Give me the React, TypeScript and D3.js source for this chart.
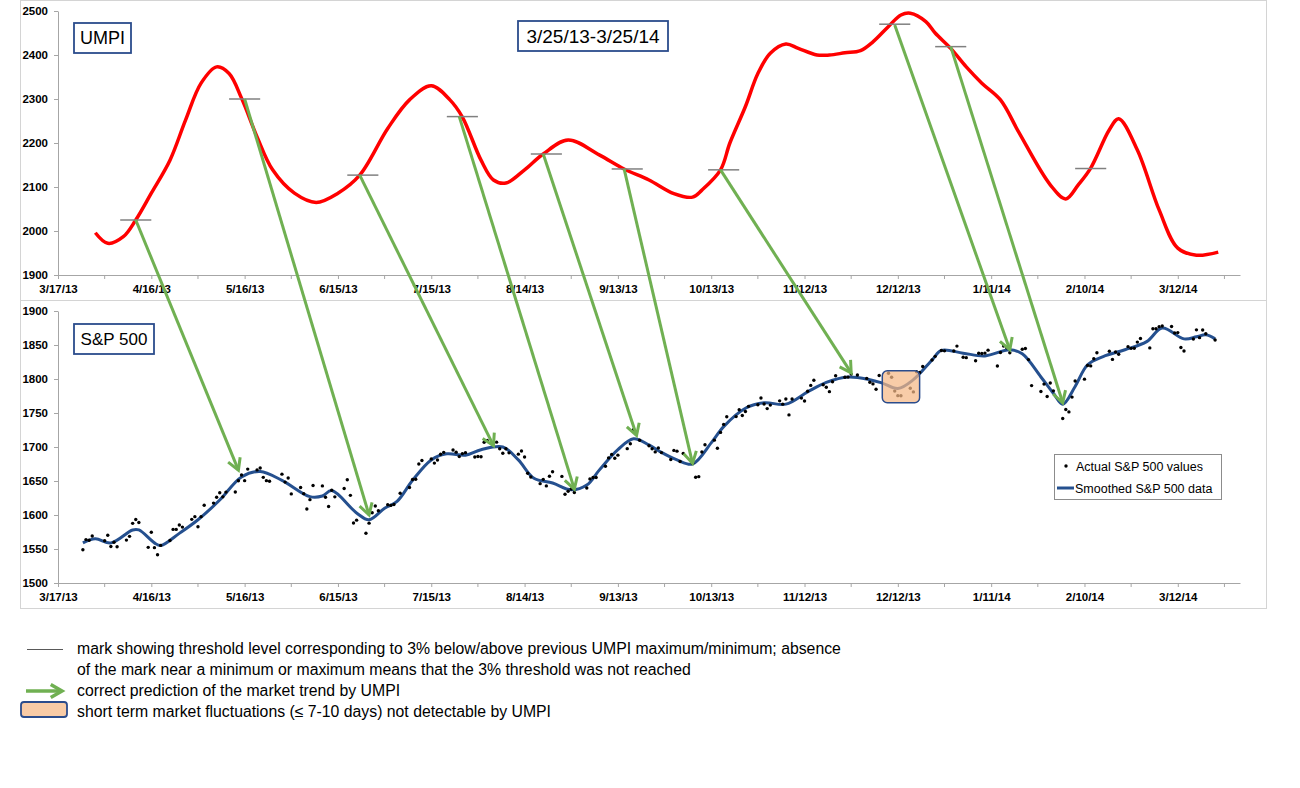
import { useEffect, useRef } from "react"
import * as d3 from "d3"

const WIDTH = 1300
const HEIGHT = 788

// x axis (shared by both panels)
const xDomain = ["2013-03-17", "2014-04-01"]
const xTickDates = [
  "2013-03-17", "2013-04-16", "2013-05-16", "2013-06-15", "2013-07-15", "2013-08-14", "2013-09-13",
  "2013-10-13", "2013-11-12", "2013-12-12", "2014-01-11", "2014-02-10", "2014-03-12",
]
const umpiTicks = [1900, 2000, 2100, 2200, 2300, 2400, 2500]
const spTicks = [1500, 1550, 1600, 1650, 1700, 1750, 1800, 1850, 1900]

// UMPI curve
const umpi: [string, number][] = [
  ["2013-03-29", 1996], ["2013-04-02", 1972], ["2013-04-07", 1987], ["2013-04-11", 2025], ["2013-04-16", 2086],
  ["2013-04-22", 2161], ["2013-04-27", 2252], ["2013-05-02", 2336], ["2013-05-07", 2373], ["2013-05-11", 2358],
  ["2013-05-15", 2302], ["2013-05-20", 2214], ["2013-05-25", 2139], ["2013-06-01", 2086], ["2013-06-08", 2065],
  ["2013-06-15", 2086], ["2013-06-22", 2127], ["2013-07-01", 2233], ["2013-07-08", 2298], ["2013-07-15", 2330],
  ["2013-07-21", 2298], ["2013-07-25", 2259], ["2013-07-31", 2161], ["2013-08-04", 2116], ["2013-08-08", 2109],
  ["2013-08-14", 2139], ["2013-08-20", 2175], ["2013-08-28", 2207], ["2013-09-07", 2173], ["2013-09-15", 2141],
  ["2013-09-23", 2116], ["2013-10-01", 2085], ["2013-10-07", 2077], ["2013-10-10", 2093], ["2013-10-16", 2139],
  ["2013-10-19", 2200], ["2013-10-24", 2283], ["2013-10-28", 2358], ["2013-11-01", 2404], ["2013-11-06", 2425],
  ["2013-11-10", 2415], ["2013-11-16", 2400], ["2013-11-20", 2400], ["2013-11-25", 2405], ["2013-11-30", 2410],
  ["2013-12-04", 2430], ["2013-12-09", 2465], ["2013-12-13", 2491], ["2013-12-16", 2495], ["2013-12-21", 2476],
  ["2013-12-24", 2450], ["2013-12-29", 2415], ["2014-01-03", 2373], ["2014-01-08", 2336], ["2014-01-14", 2298],
  ["2014-01-20", 2223], ["2014-01-30", 2105], ["2014-02-04", 2073], ["2014-02-08", 2105], ["2014-02-12", 2143],
  ["2014-02-18", 2230], ["2014-02-21", 2255], ["2014-02-27", 2184], ["2014-03-06", 2048], ["2014-03-12", 1961],
  ["2014-03-18", 1945], ["2014-03-25", 1952],
]

// threshold marks: [start, end, level]
const thresholdMarks: [string, string, number][] = [
  ["2013-04-06", "2013-04-16", 2025],
  ["2013-05-11", "2013-05-21", 2300],
  ["2013-06-18", "2013-06-28", 2127],
  ["2013-07-20", "2013-07-30", 2260],
  ["2013-08-16", "2013-08-26", 2175],
  ["2013-09-11", "2013-09-21", 2141],
  ["2013-10-12", "2013-10-22", 2139],
  ["2013-12-06", "2013-12-16", 2470],
  ["2013-12-24", "2014-01-03", 2419],
  ["2014-02-07", "2014-02-17", 2142],
]

// arrows: UMPI [date, value] -> S&P [date, value]
const arrows: [string, number, string, number][] = [
  ["2013-04-11", 2025, "2013-05-14", 1666],
  ["2013-05-16", 2300, "2013-06-25", 1600],
  ["2013-06-22", 2127, "2013-08-04", 1702],
  ["2013-07-24", 2260, "2013-08-30", 1638],
  ["2013-08-20", 2175, "2013-09-19", 1717],
  ["2013-09-15", 2141, "2013-10-07", 1676],
  ["2013-10-16", 2139, "2013-11-27", 1809],
  ["2013-12-11", 2468, "2014-01-17", 1843],
  ["2013-12-29", 2419, "2014-02-03", 1765],
]

// short term fluctuation box: [start, end, low, high]
const fluctuationBox: [string, string, number, number] = ["2013-12-07", "2013-12-19", 1765, 1812]

// actual S&P 500 closes
const spActual: [string, number][] = [
  ["2013-03-25", 1549], ["2013-03-26", 1563.8], ["2013-03-27", 1562.9], ["2013-03-28", 1569.2], ["2013-04-01", 1562.2],
  ["2013-04-02", 1570.3], ["2013-04-03", 1553.7], ["2013-04-04", 1560], ["2013-04-05", 1553.3], ["2013-04-08", 1563.1],
  ["2013-04-09", 1568.6], ["2013-04-10", 1587.7], ["2013-04-11", 1593.4], ["2013-04-12", 1588.9], ["2013-04-15", 1552.4],
  ["2013-04-16", 1574.6], ["2013-04-17", 1552], ["2013-04-18", 1541.6], ["2013-04-19", 1555.3], ["2013-04-22", 1562.5],
  ["2013-04-23", 1578.8], ["2013-04-24", 1578.8], ["2013-04-25", 1585.2], ["2013-04-26", 1582.2], ["2013-04-29", 1593.6],
  ["2013-04-30", 1597.6], ["2013-05-01", 1582.7], ["2013-05-02", 1597.6], ["2013-05-03", 1614.4], ["2013-05-06", 1617.5],
  ["2013-05-07", 1626], ["2013-05-08", 1632.7], ["2013-05-09", 1626.7], ["2013-05-10", 1633.7], ["2013-05-13", 1633.8],
  ["2013-05-14", 1650.3], ["2013-05-15", 1658.8], ["2013-05-16", 1650.5], ["2013-05-17", 1667.5], ["2013-05-20", 1666.3],
  ["2013-05-21", 1669.2], ["2013-05-22", 1655.4], ["2013-05-23", 1650.5], ["2013-05-24", 1649.6], ["2013-05-28", 1660.1],
  ["2013-05-29", 1648.4], ["2013-05-30", 1654.4], ["2013-05-31", 1631], ["2013-06-03", 1640.4], ["2013-06-04", 1631.4],
  ["2013-06-05", 1608.9], ["2013-06-06", 1622.6], ["2013-06-07", 1643.4], ["2013-06-10", 1642.8], ["2013-06-11", 1626.1],
  ["2013-06-12", 1612.5], ["2013-06-13", 1636.4], ["2013-06-14", 1626.7], ["2013-06-17", 1639], ["2013-06-18", 1651.8],
  ["2013-06-19", 1628.9], ["2013-06-20", 1588.2], ["2013-06-21", 1592.4], ["2013-06-24", 1573.1], ["2013-06-25", 1588],
  ["2013-06-26", 1603.3], ["2013-06-27", 1613.2], ["2013-06-28", 1606.3], ["2013-07-01", 1615], ["2013-07-02", 1614.1],
  ["2013-07-03", 1615.4], ["2013-07-05", 1631.9], ["2013-07-08", 1640.5], ["2013-07-09", 1652.3], ["2013-07-10", 1652.6],
  ["2013-07-11", 1675], ["2013-07-12", 1680.2], ["2013-07-15", 1682.5], ["2013-07-16", 1676.3], ["2013-07-17", 1680.9],
  ["2013-07-18", 1689.4], ["2013-07-19", 1692.1], ["2013-07-22", 1695.5], ["2013-07-23", 1692.4], ["2013-07-24", 1685.9],
  ["2013-07-25", 1690.3], ["2013-07-26", 1691.7], ["2013-07-29", 1685.3], ["2013-07-30", 1686], ["2013-07-31", 1685.7],
  ["2013-08-01", 1706.9], ["2013-08-02", 1709.7], ["2013-08-05", 1707.1], ["2013-08-06", 1697.4], ["2013-08-07", 1690.9],
  ["2013-08-08", 1697.5], ["2013-08-09", 1691.4], ["2013-08-12", 1689.5], ["2013-08-13", 1694.2], ["2013-08-14", 1685.4],
  ["2013-08-15", 1661.3], ["2013-08-16", 1655.8], ["2013-08-19", 1646.1], ["2013-08-20", 1652.4], ["2013-08-21", 1642.8],
  ["2013-08-22", 1657], ["2013-08-23", 1663.5], ["2013-08-26", 1656.8], ["2013-08-27", 1630.5], ["2013-08-28", 1635],
  ["2013-08-29", 1638.2], ["2013-08-30", 1633], ["2013-09-03", 1639.8], ["2013-09-04", 1653.1], ["2013-09-05", 1655.1],
  ["2013-09-06", 1655.2], ["2013-09-09", 1671.7], ["2013-09-10", 1684], ["2013-09-11", 1689.1], ["2013-09-12", 1683.4],
  ["2013-09-13", 1688], ["2013-09-16", 1697.6], ["2013-09-17", 1704.8], ["2013-09-18", 1725.5], ["2013-09-19", 1722.3],
  ["2013-09-20", 1709.9], ["2013-09-23", 1701.8], ["2013-09-24", 1697.4], ["2013-09-25", 1692.8], ["2013-09-26", 1698.7],
  ["2013-09-27", 1691.8], ["2013-09-30", 1681.6], ["2013-10-01", 1695], ["2013-10-02", 1693.9], ["2013-10-03", 1678.7],
  ["2013-10-04", 1690.5], ["2013-10-07", 1676.1], ["2013-10-08", 1655.5], ["2013-10-09", 1656.4], ["2013-10-10", 1692.6],
  ["2013-10-11", 1703.2], ["2013-10-14", 1710.1], ["2013-10-15", 1698.1], ["2013-10-16", 1721.5], ["2013-10-17", 1733.2],
  ["2013-10-18", 1744.5], ["2013-10-21", 1744.7], ["2013-10-22", 1754.7], ["2013-10-23", 1746.4], ["2013-10-24", 1752.1],
  ["2013-10-25", 1759.8], ["2013-10-28", 1762.1], ["2013-10-29", 1772], ["2013-10-30", 1763.3], ["2013-10-31", 1756.5],
  ["2013-11-01", 1761.6], ["2013-11-04", 1767.9], ["2013-11-05", 1763], ["2013-11-06", 1770.5], ["2013-11-07", 1747.2],
  ["2013-11-08", 1770.6], ["2013-11-11", 1771.9], ["2013-11-12", 1767.7], ["2013-11-13", 1782], ["2013-11-14", 1790.6],
  ["2013-11-15", 1798.2], ["2013-11-18", 1791.5], ["2013-11-19", 1787.9], ["2013-11-20", 1781.4], ["2013-11-21", 1795.9],
  ["2013-11-22", 1804.8], ["2013-11-25", 1802.5], ["2013-11-26", 1802.8], ["2013-11-27", 1807.2], ["2013-11-29", 1805.8],
  ["2013-12-02", 1800.9], ["2013-12-03", 1795.2], ["2013-12-04", 1792.8], ["2013-12-05", 1785], ["2013-12-06", 1805.1],
  ["2013-12-09", 1808.4], ["2013-12-10", 1802.6], ["2013-12-11", 1782.2], ["2013-12-12", 1775.5], ["2013-12-13", 1775.3],
  ["2013-12-16", 1786.5], ["2013-12-17", 1781], ["2013-12-18", 1810.7], ["2013-12-19", 1809.6], ["2013-12-20", 1818.3],
  ["2013-12-23", 1828], ["2013-12-24", 1833.3], ["2013-12-26", 1842], ["2013-12-27", 1841.4], ["2013-12-30", 1841.1],
  ["2013-12-31", 1848.4], ["2014-01-02", 1832], ["2014-01-03", 1831.4], ["2014-01-06", 1826.8], ["2014-01-07", 1837.9],
  ["2014-01-08", 1837.5], ["2014-01-09", 1838.1], ["2014-01-10", 1842.4], ["2014-01-13", 1819.2], ["2014-01-14", 1838.9],
  ["2014-01-15", 1848.4], ["2014-01-16", 1845.9], ["2014-01-17", 1838.7], ["2014-01-21", 1843.8], ["2014-01-22", 1844.9],
  ["2014-01-23", 1828.5], ["2014-01-24", 1790.3], ["2014-01-27", 1781.6], ["2014-01-28", 1792.5], ["2014-01-29", 1774.2],
  ["2014-01-30", 1794.2], ["2014-01-31", 1782.6], ["2014-02-03", 1741.9], ["2014-02-04", 1755.2], ["2014-02-05", 1751.6],
  ["2014-02-06", 1773.4], ["2014-02-07", 1797], ["2014-02-10", 1799.8], ["2014-02-11", 1819.8], ["2014-02-12", 1819.3],
  ["2014-02-13", 1829.8], ["2014-02-14", 1838.6], ["2014-02-18", 1840.8], ["2014-02-19", 1828.8], ["2014-02-20", 1839.8],
  ["2014-02-21", 1836.3], ["2014-02-24", 1847.6], ["2014-02-25", 1845.1], ["2014-02-26", 1845.2], ["2014-02-27", 1854.3],
  ["2014-02-28", 1859.5], ["2014-03-03", 1845.7], ["2014-03-04", 1873.9], ["2014-03-05", 1873.8], ["2014-03-06", 1877],
  ["2014-03-07", 1878], ["2014-03-10", 1877.2], ["2014-03-11", 1867.6], ["2014-03-12", 1868.2], ["2014-03-13", 1846.3],
  ["2014-03-14", 1841.1], ["2014-03-17", 1858.8], ["2014-03-18", 1872.3], ["2014-03-19", 1860.8], ["2014-03-20", 1872],
  ["2014-03-21", 1866.5], ["2014-03-24", 1857.4],
]

// smoothed S&P 500
const spSmoothed: [string, number][] = [
  ["2013-03-25", 1559], ["2013-03-29", 1565], ["2013-04-03", 1559], ["2013-04-10", 1578], ["2013-04-12", 1578],
  ["2013-04-17", 1559], ["2013-04-19", 1555], ["2013-04-25", 1573], ["2013-05-01", 1593], ["2013-05-08", 1622],
  ["2013-05-15", 1656], ["2013-05-21", 1664], ["2013-05-28", 1651], ["2013-06-06", 1627], ["2013-06-10", 1628],
  ["2013-06-13", 1636], ["2013-06-21", 1603], ["2013-06-25", 1593], ["2013-06-30", 1610], ["2013-07-04", 1620],
  ["2013-07-09", 1651], ["2013-07-15", 1681], ["2013-07-20", 1690], ["2013-07-26", 1688], ["2013-07-31", 1696],
  ["2013-08-07", 1700], ["2013-08-12", 1681], ["2013-08-17", 1654], ["2013-08-23", 1647], ["2013-08-29", 1637],
  ["2013-09-03", 1644], ["2013-09-07", 1666], ["2013-09-13", 1696], ["2013-09-18", 1712], ["2013-09-23", 1703],
  ["2013-09-27", 1692], ["2013-10-02", 1681], ["2013-10-07", 1675], ["2013-10-13", 1706], ["2013-10-17", 1730],
  ["2013-10-24", 1757], ["2013-10-30", 1765], ["2013-11-06", 1763], ["2013-11-13", 1781], ["2013-11-19", 1795],
  ["2013-11-26", 1803], ["2013-12-03", 1799], ["2013-12-07", 1794], ["2013-12-12", 1786], ["2013-12-17", 1799],
  ["2013-12-23", 1828], ["2013-12-26", 1842], ["2014-01-02", 1838], ["2014-01-09", 1834], ["2014-01-17", 1843],
  ["2014-01-21", 1837], ["2014-01-27", 1803], ["2014-01-31", 1779], ["2014-02-03", 1763], ["2014-02-07", 1789],
  ["2014-02-11", 1821], ["2014-02-16", 1833], ["2014-02-23", 1843], ["2014-03-02", 1855], ["2014-03-07", 1875],
  ["2014-03-14", 1859], ["2014-03-18", 1862], ["2014-03-21", 1865], ["2014-03-24", 1859],
]

const legendNotes = [
  "mark showing threshold level corresponding to 3% below/above previous UMPI maximum/minimum; absence",
  "of the mark near a minimum or maximum means that the 3% threshold was not reached",
  "correct prediction of the market trend by UMPI",
  "short term market fluctuations (\u2264 7-10 days) not detectable by UMPI",
]

const FONT = "'Liberation Sans', Arial, sans-serif"
const AXIS_COLOR = "#a6a6a6"
const GREEN = "#70b052"
const RED = "#ff0000"
const BLUE = "#25508f"
const BOX_BLUE = "#2b4c8c"

const parseDay = d3.timeParse("%Y-%m-%d")
const day = (s: string) => parseDay(s) as Date

export default function App() {
  const svgRef = useRef<SVGSVGElement | null>(null)

  useEffect(() => {
    if (!svgRef.current) return
    const svg = d3.select(svgRef.current)
    svg.selectAll("*").remove()

    const x = d3.scaleTime().domain(xDomain.map(day)).range([58, 1240])
    const yU = d3.scaleLinear().domain([1900, 2500]).range([275, 11])
    const yS = d3.scaleLinear().domain([1500, 1900]).range([583, 311])
    const fmt = d3.timeFormat("%-m/%-d/%y")
    const majors = xTickDates.map(day)
    const minors = majors.map((d) => d3.timeDay.offset(d, 15))

    // panel frames
    svg.append("rect").attr("x", 20.5).attr("y", 0.5).attr("width", 1246).attr("height", 300)
      .attr("fill", "#fff").attr("stroke", "#d4d4d4")
    svg.append("rect").attr("x", 20.5).attr("y", 300.5).attr("width", 1246).attr("height", 308)
      .attr("fill", "#fff").attr("stroke", "#d4d4d4")

    const drawAxes = (y: d3.ScaleLinear<number, number>, ticks: number[], yPos: number) => {
      const xg = svg.append("g").attr("transform", `translate(0,${yPos})`)
        .call(d3.axisBottom(x).tickValues(majors).tickFormat((d) => fmt(d as Date)).tickSize(4).tickSizeOuter(0).tickPadding(6))
      xg.selectAll(".minor").data(minors).join("line").attr("class", "minor")
        .attr("x1", (d) => x(d)).attr("x2", (d) => x(d)).attr("y1", 0).attr("y2", 4)
      const yg = svg.append("g").attr("transform", `translate(${x.range()[0]},0)`)
        .call(d3.axisLeft(y).tickValues(ticks).tickFormat(d3.format("d")).tickSize(4).tickSizeOuter(0).tickPadding(6))
      for (const g of [xg, yg]) {
        g.attr("font-family", FONT).attr("font-size", 11.5).attr("font-weight", "bold")
        g.select(".domain").attr("stroke", AXIS_COLOR)
        g.selectAll("line").attr("stroke", AXIS_COLOR)
        g.selectAll("text").attr("fill", "#000")
      }
    }
    drawAxes(yU, umpiTicks, 275)
    drawAxes(yS, spTicks, 583)

    // UMPI curve
    const umpiLine = d3.line<[string, number]>()
      .x((d) => x(day(d[0])))
      .y((d) => yU(d[1]))
      .curve(d3.curveCatmullRom.alpha(0.5))
    svg.append("path").datum(umpi).attr("d", umpiLine).attr("fill", "none")
      .attr("stroke", RED).attr("stroke-width", 3.5).attr("stroke-linejoin", "round")

    // threshold marks
    svg.append("g").selectAll("line").data(thresholdMarks).join("line")
      .attr("x1", (d) => x(day(d[0]))).attr("x2", (d) => x(day(d[1])))
      .attr("y1", (d) => yU(d[2])).attr("y2", (d) => yU(d[2]))
      .attr("stroke", "#808080").attr("stroke-width", 1.5)

    // smoothed S&P
    const spLine = d3.line<[string, number]>()
      .x((d) => x(day(d[0])))
      .y((d) => yS(d[1]))
      .curve(d3.curveCatmullRom.alpha(0.5))
    svg.append("path").datum(spSmoothed).attr("d", spLine).attr("fill", "none")
      .attr("stroke", BLUE).attr("stroke-width", 3).attr("stroke-linejoin", "round")

    // actual S&P dots
    svg.append("g").selectAll("circle").data(spActual).join("circle")
      .attr("cx", (d) => x(day(d[0]))).attr("cy", (d) => yS(d[1])).attr("r", 1.7).attr("fill", "#000")

    // fluctuation box
    svg.append("rect")
      .attr("x", x(day(fluctuationBox[0]))).attr("y", yS(fluctuationBox[3]))
      .attr("width", x(day(fluctuationBox[1])) - x(day(fluctuationBox[0])))
      .attr("height", yS(fluctuationBox[2]) - yS(fluctuationBox[3]))
      .attr("rx", 5).attr("fill", "#f5b887").attr("fill-opacity", 0.72)
      .attr("stroke", BOX_BLUE).attr("stroke-width", 1.5)

    // legend inside lower panel
    const lg = svg.append("g").attr("font-family", FONT).attr("font-size", 12.5).attr("fill", "#000")
    lg.append("rect").attr("x", 1054.5).attr("y", 454.5).attr("width", 167).attr("height", 45)
      .attr("fill", "#fff").attr("stroke", "#8c8c8c")
    lg.append("circle").attr("cx", 1066).attr("cy", 466).attr("r", 1.7).attr("fill", "#000")
    lg.append("text").attr("x", 1076).attr("y", 470.5).text("Actual S&P 500 values")
    lg.append("line").attr("x1", 1057).attr("x2", 1074).attr("y1", 488).attr("y2", 488)
      .attr("stroke", BLUE).attr("stroke-width", 3)
    lg.append("text").attr("x", 1075).attr("y", 492.5).text("Smoothed S&P 500 data")

    // arrows
    const drawArrow = (g: d3.Selection<SVGGElement, unknown, null, undefined>, x1: number, y1: number, x2: number, y2: number) => {
      const a = Math.atan2(y2 - y1, x2 - x1)
      const len = 13
      const spread = (30 * Math.PI) / 180
      g.append("line").attr("x1", x1).attr("y1", y1).attr("x2", x2).attr("y2", y2)
      g.append("path").attr("fill", "none").attr("stroke-linejoin", "miter").attr("d",
        `M${x2 - len * Math.cos(a - spread)},${y2 - len * Math.sin(a - spread)}L${x2},${y2}L${x2 - len * Math.cos(a + spread)},${y2 - len * Math.sin(a + spread)}`)
    }
    const ag = svg.append("g").attr("stroke", GREEN).attr("stroke-width", 3).attr("stroke-linecap", "butt")
    for (const [d1, v1, d2, v2] of arrows) {
      drawArrow(ag, x(day(d1)), yU(v1), x(day(d2)), yS(v2))
    }

    // labelled boxes
    const labelBox = (bx: number, by: number, w: number, h: number, label: string, size: number) => {
      svg.append("rect").attr("x", bx).attr("y", by).attr("width", w).attr("height", h)
        .attr("fill", "#fff").attr("stroke", BOX_BLUE).attr("stroke-width", 1.8)
      svg.append("text").attr("x", bx + w / 2).attr("y", by + h / 2).attr("dy", "0.36em")
        .attr("text-anchor", "middle").attr("font-family", FONT).attr("font-size", size).attr("fill", "#000")
        .text(label)
    }
    labelBox(74, 23, 57, 30, "UMPI", 18)
    labelBox(518, 21, 150, 30, "3/25/13-3/25/14", 19)
    labelBox(74, 324, 80, 30, "S&P 500", 17)

    // bottom notes
    const notes = svg.append("g").attr("font-family", FONT).attr("font-size", 15.8).attr("fill", "#000")
    const noteY = [654, 675, 696, 717]
    legendNotes.forEach((t, i) => notes.append("text").attr("x", 77).attr("y", noteY[i]).text(t))
    notes.append("line").attr("x1", 27).attr("x2", 63).attr("y1", 649.5).attr("y2", 649.5)
      .attr("stroke", "#595959").attr("stroke-width", 1.2)
    const ng = svg.append("g").attr("stroke", GREEN).attr("stroke-width", 3.5)
    drawArrow(ng, 26, 691, 62, 691)
    svg.append("rect").attr("x", 21).attr("y", 702).attr("width", 46).attr("height", 15).attr("rx", 3)
      .attr("fill", "#f8cba6").attr("stroke", BOX_BLUE).attr("stroke-width", 1.8)
  }, [])

  return (
    <svg
      ref={svgRef}
      width={WIDTH}
      height={HEIGHT}
      style={{ position: "absolute", left: 0, top: 0, background: "#fff" }}
    ></svg>
  )
}
